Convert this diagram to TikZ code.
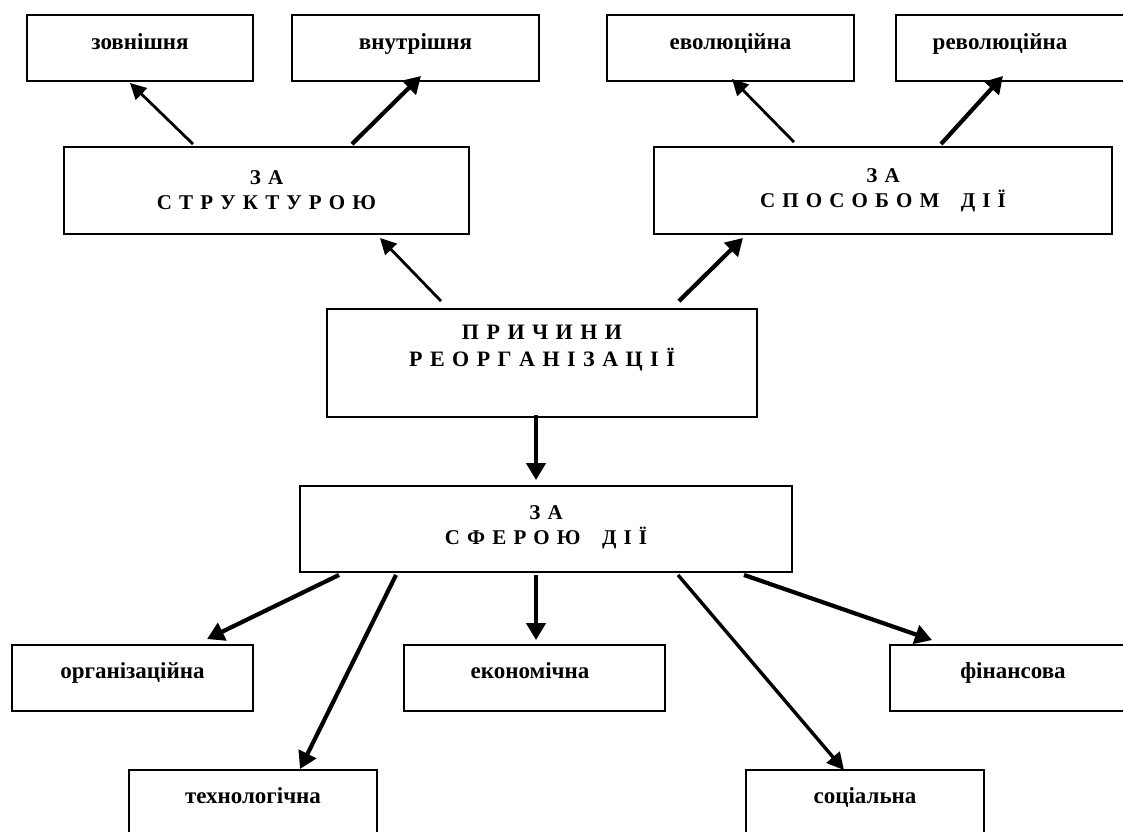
\documentclass[tikz,border=0pt]{standalone}
\usepackage{fontspec}
\setmainfont{Liberation Serif}
\newfontfamily\capsfont{Liberation Serif}[LetterSpace=9]
\usetikzlibrary{arrows.meta,calc}
\begin{document}
\begin{tikzpicture}[x=1pt,y=-1pt,
  box/.style={draw,line width=1.9pt,rectangle,inner sep=0pt,minimum height=66pt},
  bigbox/.style={draw,line width=1.9pt,rectangle,inner sep=0pt},
  lbl/.style={font=\bfseries\fontsize{23}{28}\selectfont,anchor=base,inner sep=0pt},
  caps/.style={font=\capsfont\bfseries\fontsize{21}{25}\selectfont,align=center,inner sep=0pt},
  capsbig/.style={font=\capsfont\bfseries\fontsize{22}{27}\selectfont,align=center,inner sep=0pt},
  arr/.style={line width=4.2pt,-{Triangle[length=17pt,width=19pt]}},
  arrmid/.style={line width=3.4pt,-{Triangle[length=17pt,width=17pt]}},
  arrthin/.style={line width=2.8pt,-{Triangle[length=16pt,width=16pt]}},
]
\useasboundingbox (0,0) rectangle (1123,831);
\clip (0,0) rectangle (1123,831);

% top row
\node[box,minimum width=226pt] (zov) at (140,48) {};
\node[lbl] (tzov) at (140,49) {зовнішня};
\node[box,minimum width=247pt] (vnu) at (415.5,48) {};
\node[lbl] (tvnu) at (415.5,49) {внутрішня};
\node[box,minimum width=247pt] (evo) at (730.5,48) {};
\node[lbl] (tevo) at (730.5,49) {еволюційна};
\node[box,minimum width=244pt] (rev) at (1018,48) {};
\node[lbl] (trev) at (1000,49) {революційна};

% second row
\node[bigbox,minimum width=405pt,minimum height=87pt] (strukt) at (266.5,190.5) {};
\node[caps] (tstrukt) at (266.5,190) {З А\\С Т Р У К Т У Р О Ю};
\node[bigbox,minimum width=458pt,minimum height=87pt] (sposob) at (883,190.5) {};
\node[caps] (tsposob) at (883,190) {З А\\С П О С О Б О М \ \ Д І Ї};

% centre
\node[bigbox,minimum width=430pt,minimum height=108pt] (pri) at (542,363) {};
\node[capsbig] (tpri) at (542,348) {П Р И Ч И Н И\\Р Е О Р Г А Н І З А Ц І Ї};

\node[bigbox,minimum width=492pt,minimum height=86pt] (sfera) at (546,529) {};
\node[caps] (tsfera) at (546,527) {З А\\С Ф Е Р О Ю \ \ Д І Ї};

% lower rows
\node[box,minimum width=241pt] (org) at (132.5,678) {};
\node[lbl] (torg) at (132.5,678) {організаційна};
\node[box,minimum width=261pt] (eko) at (534.5,678) {};
\node[lbl] (teko) at (530,678) {економічна};
\node[box,minimum width=246pt] (fin) at (1013,678) {};
\node[lbl] (tfin) at (1013,678) {фінансова};
\node[box,minimum width=248pt] (tech) at (253,803) {};
\node[lbl] (ttech) at (253,803) {технологічна};
\node[box,minimum width=238pt] (soc) at (865,803) {};
\node[lbl] (tsoc) at (865,803) {соціальна};

% connectors
\draw[arrthin] ($(strukt.north)+(-73.5,-2)$) -- ($(zov.south)+(-10,1)$);
\draw[arr] ($(strukt.north)+(85.5,-2)$) -- ($(vnu.south)+(5.5,-6)$);
\draw[arrthin] ($(sposob.north)+(-89,-4)$) -- ($(evo.south)+(1.5,-3)$);
\draw[arr] ($(sposob.north)+(58,-2)$) -- ($(rev.south)+(-15,-6)$);
\draw[arrthin] ($(pri.north)+(-101,-7)$) -- ($(strukt.south)+(113.5,3)$);
\draw[arr] ($(pri.north)+(137,-7)$) -- ($(sposob.south)+(-140,3)$);
\draw[arr] ($(pri.south)+(-6,-3)$) -- ($(sfera.north)+(-10,-5)$);
\draw[arr] ($(sfera.south)+(-207,2)$) -- ($(org.north)+(74.5,-5)$);
\draw[arr] ($(sfera.south)+(-150,2)$) -- ($(tech.north)+(47,0)$);
\draw[arr] ($(sfera.south)+(-10,2)$) -- ($(eko.north)+(1.5,-4)$);
\draw[arrmid] ($(sfera.south)+(132,2)$) -- ($(soc.north)+(-21,1)$);
\draw[arr] ($(sfera.south)+(198,2)$) -- ($(fin.north)+(-81,-4)$);
\end{tikzpicture}
\end{document}
